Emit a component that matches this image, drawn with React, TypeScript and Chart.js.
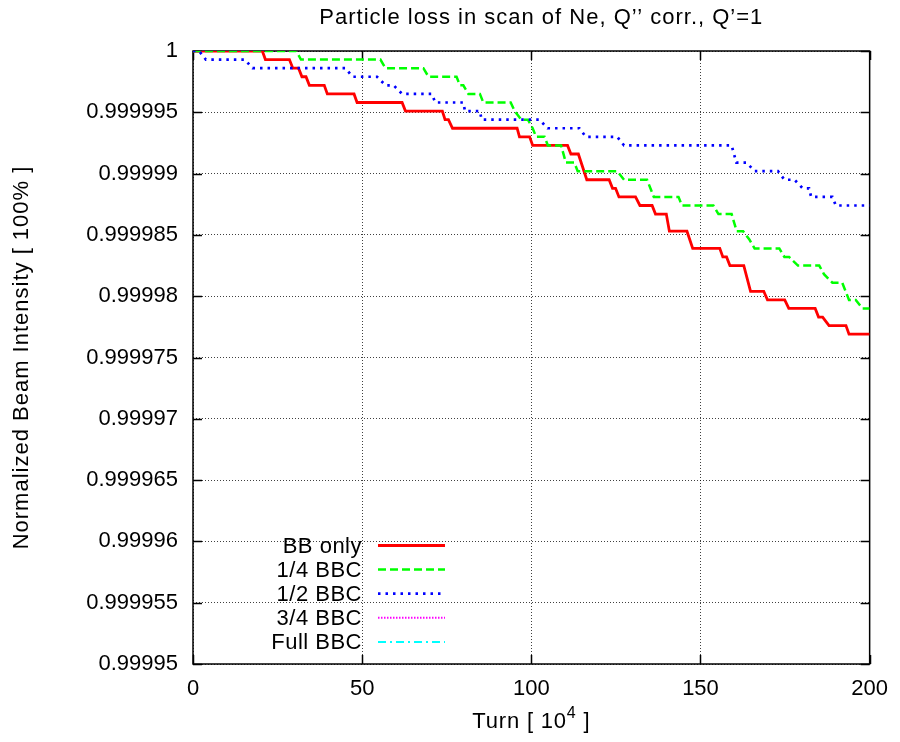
import React, { useEffect, useRef } from 'react';
import { Chart, registerables } from 'chart.js';

Chart.register(...registerables);

const FONT = '"Liberation Sans", Arial, Helvetica, sans-serif';

const titleText = 'Particle loss in scan of Ne, Q’’ corr., Q’=1';
const yAxisTitle = 'Normalized Beam Intensity [ 100% ]';
const xTitleBase = 'Turn [ 10';
const xTitleSup = '4';
const xTitleEnd = ' ]';

const seriesNames = ['BB only', '1/4 BBC', '1/2 BBC', '3/4 BBC', 'Full BBC'];
const seriesColors = ['#ff0000', '#00ff00', '#0000ff', '#ff00ff', '#00ffff'];

const xTicks = [0, 50, 100, 150, 200];
const xTickLabels = ['0', '50', '100', '150', '200'];
const yTicks = [0.99995, 0.999955, 0.99996, 0.999965, 0.99997, 0.999975, 0.99998, 0.999985, 0.99999, 0.999995, 1];
const yTickLabels = ['0.99995', '0.999955', '0.99996', '0.999965', '0.99997', '0.999975', '0.99998', '0.999985', '0.99999', '0.999995', '1'];

// BB only
const bbOnlyX = [0, 20.5, 21.4, 28.5, 29.5, 31.2, 32.2, 33.4, 34.4, 38.8, 39.7, 47.6, 48.5, 61.8, 62.8, 73.7, 74.5, 75.5, 76.7, 95.8, 96.5, 99.5, 100.4, 110.7, 111.7, 113.9, 116.4, 123.0, 124.0, 124.9, 125.9, 130.8, 132.1, 135.7, 136.7, 139.9, 140.8, 146.0, 147.7, 155.7, 156.6, 157.7, 158.7, 162.8, 164.8, 168.7, 169.8, 174.9, 176.1, 183.9, 184.9, 186.1, 188.0, 193.0, 193.9, 200];
const bbOnlyY = [1, 1, 0.9999993, 0.9999993, 0.9999986, 0.9999986, 0.9999979, 0.9999979, 0.9999972, 0.9999972, 0.9999965, 0.9999965, 0.9999958, 0.9999958, 0.9999951, 0.9999951, 0.9999944, 0.9999944, 0.9999937, 0.9999937, 0.999993, 0.999993, 0.9999923, 0.9999923, 0.9999916, 0.9999916, 0.9999895, 0.9999895, 0.9999888, 0.9999888, 0.9999881, 0.9999881, 0.9999874, 0.9999874, 0.9999867, 0.9999867, 0.9999853, 0.9999853, 0.9999839, 0.9999839, 0.9999832, 0.9999832, 0.9999825, 0.9999825, 0.9999804, 0.9999804, 0.9999797, 0.9999797, 0.999979, 0.999979, 0.9999783, 0.9999783, 0.9999776, 0.9999776, 0.9999769, 0.9999769];

// 1/4 BBC
const quarterX = [0, 30.5, 31.9, 55.4, 56.9, 68.1, 69.6, 77.9, 78.9, 79.9, 81.4, 84.8, 85.8, 93.9, 95.1, 97.0, 99.0, 100.4, 101.4, 103.9, 104.9, 108.8, 110.2, 112.7, 113.7, 125.4, 127.4, 134.2, 136.2, 143.5, 144.5, 153.8, 155.3, 159.2, 160.7, 162.6, 164.5, 166.0, 173.3, 174.8, 176.2, 178.8, 185.1, 186.5, 189.0, 191.9, 193.9, 195.9, 197.9, 200];
const quarterY = [1, 1, 0.9999993, 0.9999993, 0.9999986, 0.9999986, 0.9999979, 0.9999979, 0.9999972, 0.9999972, 0.9999965, 0.9999965, 0.9999958, 0.9999958, 0.9999951, 0.9999944, 0.9999944, 0.9999937, 0.999993, 0.999993, 0.9999923, 0.9999923, 0.9999909, 0.9999909, 0.9999902, 0.9999902, 0.9999895, 0.9999895, 0.9999881, 0.9999881, 0.9999874, 0.9999874, 0.9999867, 0.9999867, 0.9999853, 0.9999853, 0.9999846, 0.9999839, 0.9999839, 0.9999832, 0.9999832, 0.9999825, 0.9999825, 0.9999818, 0.9999811, 0.9999811, 0.9999797, 0.9999797, 0.999979, 0.999979];

// 1/2 BBC
const halfX = [0, 1.8, 3.8, 15.3, 17.6, 45.1, 47.1, 54.4, 56.9, 59.3, 61.8, 70.6, 71.6, 79.9, 80.4, 84.8, 85.3, 102.4, 104.8, 114.2, 116.1, 125.4, 127.4, 159.2, 160.6, 163.6, 166.0, 172.9, 174.8, 177.8, 180.2, 182.1, 182.7, 189.0, 190.0, 200];
const halfY = [1, 1, 0.9999993, 0.9999993, 0.9999986, 0.9999986, 0.9999979, 0.9999979, 0.9999972, 0.9999972, 0.9999965, 0.9999965, 0.9999958, 0.9999958, 0.9999951, 0.9999951, 0.9999944, 0.9999944, 0.9999937, 0.9999937, 0.999993, 0.999993, 0.9999923, 0.9999923, 0.9999909, 0.9999909, 0.9999902, 0.9999902, 0.9999895, 0.9999895, 0.9999888, 0.9999888, 0.9999881, 0.9999881, 0.9999874, 0.9999874];

// 3/4 BBC and Full BBC: no visible data inside the plotted range
const threeQuarterX: number[] = [];
const threeQuarterY: number[] = [];
const fullX: number[] = [];
const fullY: number[] = [];

const toPoints = (xs: number[], ys: number[]) => xs.map((x, i) => ({ x, y: ys[i] }));

const seriesDash = [[], [8, 4], [2.5, 5], [1.5, 1.5], [8, 4, 2, 4]];
const seriesWidth = [2.8, 2.5, 2.7, 2, 2];

const decorPlugin = {
  id: 'decor',
  beforeDatasetsDraw(chart: any) {
    const { ctx, chartArea } = chart;
    const { left, right, top, bottom } = chartArea;
    const xs = chart.scales.x;
    const ys = chart.scales.y;
    ctx.save();
    ctx.setLineDash([]);
    ctx.strokeStyle = '#000';
    ctx.lineWidth = 1.5;
    ctx.strokeRect(left, top, right - left, bottom - top);
    ctx.beginPath();
    for (const v of xTicks) {
      const px = Math.round(xs.getPixelForValue(v)) + 0.5;
      ctx.moveTo(px, bottom);
      ctx.lineTo(px, bottom - 9);
      ctx.moveTo(px, top);
      ctx.lineTo(px, top + 9);
    }
    for (const v of yTicks) {
      const py = Math.round(ys.getPixelForValue(v)) + 0.5;
      ctx.moveTo(left, py);
      ctx.lineTo(left + 9, py);
      ctx.moveTo(right, py);
      ctx.lineTo(right - 9, py);
    }
    ctx.stroke();
    ctx.restore();
  },
  afterDraw(chart: any) {
    const { ctx, chartArea } = chart;
    const { left, right, top, bottom } = chartArea;
    ctx.save();
    ctx.fillStyle = '#000';
    ctx.font = `22px ${FONT}`;
    // title
    ctx.letterSpacing = '1px';
    ctx.textAlign = 'center';
    ctx.textBaseline = 'alphabetic';
    ctx.fillText(titleText, (left + right) / 2 + 10, 24);
    // x title with superscript
    ctx.letterSpacing = '0.8px';
    const baseW = ctx.measureText(xTitleBase).width;
    const endW = ctx.measureText(xTitleEnd).width;
    ctx.font = `16px ${FONT}`;
    const supW = ctx.measureText(xTitleSup).width;
    const total = baseW + supW + endW;
    const x0 = (left + right) / 2 - total / 2;
    ctx.textAlign = 'left';
    ctx.font = `22px ${FONT}`;
    ctx.fillText(xTitleBase, x0, 728);
    ctx.font = `16px ${FONT}`;
    ctx.fillText(xTitleSup, x0 + baseW, 718);
    ctx.font = `22px ${FONT}`;
    ctx.fillText(xTitleEnd, x0 + baseW + supW, 728);
    // y title
    ctx.save();
    ctx.letterSpacing = '1px';
    ctx.translate(22, (top + bottom) / 2);
    ctx.rotate(-Math.PI / 2);
    ctx.textAlign = 'center';
    ctx.textBaseline = 'middle';
    ctx.fillText(yAxisTitle, 0, 0);
    ctx.restore();
    // legend
    ctx.letterSpacing = '0.5px';
    const textRight = left + 169;
    const lineStart = left + 185;
    const lineEnd = left + 252;
    chart.data.datasets.forEach((ds: any, i: number) => {
      const y = bottom - 118.5 + i * 24.1;
      ctx.textAlign = 'right';
      ctx.textBaseline = 'middle';
      ctx.fillStyle = '#000';
      ctx.font = `22px ${FONT}`;
      ctx.fillText(ds.label, textRight, y + 1);
      ctx.beginPath();
      ctx.strokeStyle = ds.borderColor;
      ctx.lineWidth = ds.borderWidth;
      ctx.setLineDash(ds.borderDash || []);
      ctx.moveTo(lineStart, y);
      ctx.lineTo(lineEnd, y);
      ctx.stroke();
    });
    ctx.restore();
  },
};

export default function App() {
  const canvasRef = useRef<HTMLCanvasElement | null>(null);

  useEffect(() => {
    if (!canvasRef.current) return;
    const dataX = [bbOnlyX, quarterX, halfX, threeQuarterX, fullX];
    const dataY = [bbOnlyY, quarterY, halfY, threeQuarterY, fullY];
    const datasets = seriesNames.map((name, i) => ({
      label: name,
      data: toPoints(dataX[i], dataY[i]),
      borderColor: seriesColors[i],
      backgroundColor: seriesColors[i],
      borderWidth: seriesWidth[i],
      borderDash: seriesDash[i],
      pointRadius: 0,
      tension: 0,
      fill: false,
      order: 4 - i,
    }));

    const chart = new Chart(canvasRef.current, {
      type: 'line',
      data: { datasets },
      plugins: [decorPlugin],
      options: {
        responsive: false,
        animation: false,
        devicePixelRatio: 1,
        layout: { padding: { top: 51, right: 26, left: 0, bottom: 0 } },
        plugins: {
          legend: { display: false },
          title: { display: false },
          tooltip: { enabled: false },
        },
        scales: {
          x: {
            type: 'linear',
            min: 0,
            max: 200,
            afterBuildTicks: (scale: any) => {
              scale.ticks = xTicks.map((v) => ({ value: v }));
            },
            afterFit: (scale: any) => {
              scale.height = 78;
            },
            ticks: {
              color: '#000',
              padding: 12,
              maxRotation: 0,
              font: { family: FONT, size: 22 },
              callback: (value: any) => {
                const i = xTicks.findIndex((t) => Math.abs(t - value) < 1e-9);
                return i >= 0 ? xTickLabels[i] : '';
              },
            },
            grid: { color: 'rgba(0,0,0,0.75)', lineWidth: 1, drawTicks: false },
            border: { display: false, dash: [1, 2] },
          },
          y: {
            type: 'linear',
            min: 0.99995,
            max: 1,
            afterBuildTicks: (scale: any) => {
              scale.ticks = yTicks.map((v) => ({ value: v }));
            },
            afterFit: (scale: any) => {
              scale.width = 193;
            },
            ticks: {
              color: '#000',
              padding: 15,
              font: { family: FONT, size: 22 },
              callback: (value: any) => {
                const i = yTicks.findIndex((t) => Math.abs(t - value) < 1e-10);
                return i >= 0 ? yTickLabels[i] : '';
              },
            },
            grid: { color: 'rgba(0,0,0,0.75)', lineWidth: 1, drawTicks: false },
            border: { display: false, dash: [1, 2] },
          },
        },
      },
    });
    return () => chart.destroy();
  }, []);

  return (
    <div style={{ position: 'absolute', left: 0, top: 0, width: 900, height: 742, background: '#fff' }}>
      <canvas ref={canvasRef} width={900} height={742} style={{ display: 'block' }} />
    </div>
  );
}
